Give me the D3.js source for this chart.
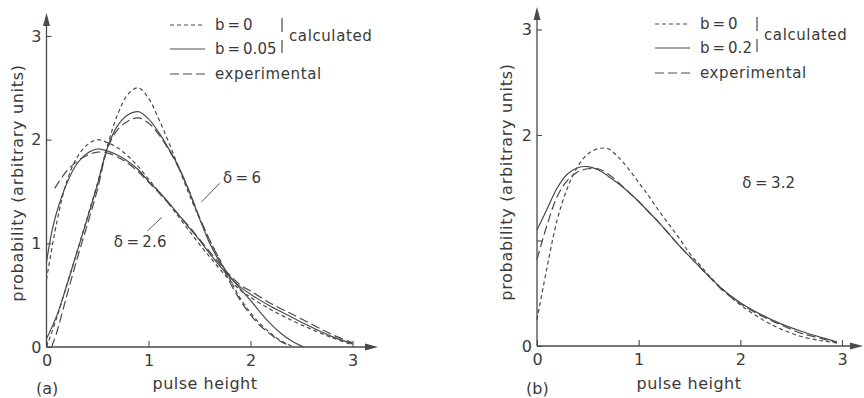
<!DOCTYPE html>
<html>
<head>
<meta charset="utf-8">
<script src="https://cdn.jsdelivr.net/npm/d3@7"></script>
<style>
  html, body { margin: 0; padding: 0; background: #fff; }
  svg { display: block; }
  text { font-family: "DejaVu Sans", sans-serif; fill: #3a3a3a; }
</style>
</head>
<body>
<svg id="chart" width="864" height="398"></svg>
<script>
// ---------- data ----------
const xTicks = [0, 1, 2, 3];
const yTicks = [0, 1, 2, 3];
const yTickLabelsA = ["0", "1", "2", "3"];
const yTickLabelsB = ["0", "", "2", "3"];

// Panel (a): delta = 2.6
const aD26_b0 = [[0,0.65],[0.1,1.2],[0.2,1.6],[0.3,1.83],[0.4,1.95],[0.5,2.0],[0.6,1.97],[0.7,1.92],[0.8,1.84],[0.9,1.74],[1.0,1.62],[1.1,1.5],[1.2,1.38],[1.3,1.25],[1.4,1.12],[1.5,0.99],[1.6,0.87],[1.7,0.75],[1.8,0.64],[1.9,0.55],[2.0,0.48],[2.2,0.36],[2.4,0.26],[2.6,0.17],[2.8,0.09],[3.0,0.02]];
const aD26_b005 = [[0,0.82],[0.05,1.1],[0.1,1.3],[0.2,1.58],[0.3,1.77],[0.4,1.87],[0.5,1.91],[0.6,1.89],[0.7,1.85],[0.8,1.79],[0.9,1.71],[1.0,1.6],[1.1,1.5],[1.2,1.39],[1.3,1.27],[1.4,1.15],[1.5,1.03],[1.6,0.9],[1.7,0.78],[1.8,0.67],[1.9,0.58],[2.0,0.51],[2.2,0.39],[2.4,0.29],[2.6,0.19],[2.8,0.1],[3.0,0.03]];
const aD26_exp = [[0.08,1.53],[0.2,1.7],[0.3,1.79],[0.4,1.85],[0.5,1.88],[0.6,1.87],[0.7,1.83],[0.8,1.77],[0.9,1.69],[1.0,1.59],[1.1,1.49],[1.2,1.38],[1.3,1.27],[1.4,1.16],[1.5,1.04],[1.6,0.92],[1.7,0.8],[1.8,0.69],[1.9,0.6],[2.0,0.54],[2.2,0.42],[2.4,0.32],[2.6,0.22],[2.8,0.12],[3.0,0.04]];
// Panel (a): delta = 6
const aD6_b0 = [[0,0],[0.1,0.28],[0.2,0.6],[0.3,0.92],[0.4,1.25],[0.5,1.58],[0.6,1.95],[0.7,2.25],[0.8,2.44],[0.9,2.5],[1.0,2.4],[1.1,2.2],[1.2,1.97],[1.3,1.72],[1.4,1.47],[1.5,1.24],[1.6,1.03],[1.7,0.84],[1.8,0.65],[1.9,0.47],[2.0,0.33],[2.1,0.22],[2.2,0.13],[2.3,0.06],[2.4,0.01]];
const aD6_b005 = [[0,0.08],[0.1,0.3],[0.2,0.6],[0.3,0.92],[0.4,1.24],[0.5,1.57],[0.6,1.93],[0.7,2.14],[0.8,2.24],[0.9,2.27],[1.0,2.2],[1.1,2.07],[1.2,1.91],[1.3,1.73],[1.4,1.5],[1.5,1.24],[1.6,1.0],[1.7,0.82],[1.8,0.68],[1.9,0.56],[2.0,0.45],[2.1,0.33],[2.2,0.22],[2.3,0.13],[2.4,0.06],[2.52,0]];
const aD6_exp = [[0.05,0],[0.1,0.14],[0.2,0.5],[0.3,0.85],[0.4,1.18],[0.5,1.52],[0.6,1.92],[0.7,2.1],[0.8,2.18],[0.9,2.21],[1.0,2.16],[1.1,2.05],[1.2,1.9],[1.3,1.72],[1.4,1.5],[1.5,1.25],[1.6,1.03],[1.7,0.83],[1.8,0.62],[1.9,0.45],[2.0,0.31],[2.1,0.2],[2.2,0.12],[2.3,0.05],[2.4,0.01]];
// Panel (b): delta = 3.2
const bB0 = [[0,0.25],[0.1,0.75],[0.2,1.2],[0.3,1.5],[0.4,1.7],[0.5,1.82],[0.6,1.87],[0.7,1.87],[0.8,1.79],[0.9,1.68],[1.0,1.55],[1.1,1.42],[1.2,1.28],[1.3,1.15],[1.4,1.02],[1.5,0.88],[1.6,0.77],[1.7,0.66],[1.8,0.56],[1.9,0.47],[2.0,0.39],[2.2,0.26],[2.4,0.16],[2.6,0.09],[2.8,0.05],[2.95,0.03]];
const bB02 = [[0,1.1],[0.1,1.3],[0.2,1.5],[0.3,1.63],[0.4,1.69],[0.5,1.7],[0.6,1.67],[0.7,1.61],[0.8,1.54],[0.9,1.46],[1.0,1.37],[1.1,1.27],[1.2,1.17],[1.3,1.06],[1.4,0.95],[1.5,0.85],[1.6,0.75],[1.7,0.65],[1.8,0.56],[1.9,0.48],[2.0,0.41],[2.2,0.3],[2.4,0.21],[2.6,0.14],[2.8,0.08],[2.95,0.04]];
const bExp = [[0,0.82],[0.1,1.15],[0.2,1.42],[0.3,1.57],[0.4,1.65],[0.5,1.68],[0.6,1.68],[0.7,1.63],[0.8,1.55],[0.9,1.46],[1.0,1.37],[1.1,1.27],[1.2,1.17],[1.3,1.06],[1.4,0.95],[1.5,0.85],[1.6,0.75],[1.7,0.65],[1.8,0.55],[1.9,0.47],[2.0,0.4],[2.2,0.29],[2.4,0.2],[2.6,0.12],[2.8,0.07],[2.95,0.03]];

const legendLabelsA = ["b\u2009=\u20090", "b\u2009=\u20090.05", "experimental"];
const legendLabelsB = ["b\u2009=\u20090", "b\u2009=\u20090.2", "experimental"];
const bracketLabel = "calculated";
const xAxisTitle = "pulse height";
const yAxisTitle = "probability (arbitrary units)";

// ---------- drawing ----------
const ink = "#4a4a4a";
const dashB0 = "4,3";
const dashExp = "9,4";
const svg = d3.select("#chart");

function arrowHead(g, x, y, dir) {
  const p = dir === "up"
    ? [[x, y], [x - 3.5, y + 13], [x + 3.5, y + 13]]
    : [[x, y], [x - 13, y - 3.5], [x - 13, y + 3.5]];
  g.append("path").attr("d", d3.line()(p) + "Z").attr("fill", ink);
}

function panel(opts) {
  const g = svg.append("g");
  const x = d3.scaleLinear().domain([0, 3]).range(opts.xr);
  const y = d3.scaleLinear().domain([0, 3]).range(opts.yr);
  const y0 = y(0), x0 = x(0);

  g.append("line").attr("x1", x0).attr("x2", opts.xEnd - 4).attr("y1", y0).attr("y2", y0)
    .attr("stroke", ink).attr("stroke-width", 1.3);
  arrowHead(g, opts.xEnd, y0, "right");
  g.append("line").attr("x1", x0).attr("x2", x0).attr("y1", y0).attr("y2", opts.yEnd + 4)
    .attr("stroke", ink).attr("stroke-width", 1.3);
  arrowHead(g, x0, opts.yEnd, "up");

  const xAxis = d3.axisBottom(x).tickValues(xTicks).tickSize(-6).tickPadding(8)
    .tickFormat(d3.format("d"));
  const gx = g.append("g").attr("transform", `translate(0,${y0})`).call(xAxis);
  gx.select(".domain").remove();
  gx.selectAll("line").attr("stroke", ink).attr("stroke-width", 1.1);
  gx.selectAll("text").attr("font-size", 16).style("fill", "#3a3a3a");

  const yAxis = d3.axisLeft(y).tickValues(yTicks).tickSize(-5).tickPadding(5)
    .tickFormat((d, i) => opts.yLabels[i]);
  const gy = g.append("g").attr("transform", `translate(${x0},0)`).call(yAxis);
  gy.select(".domain").remove();
  gy.selectAll("line").attr("stroke", ink).attr("stroke-width", 1.1);
  gy.selectAll("text").attr("font-size", 16).style("fill", "#3a3a3a");

  const line = d3.line().x(d => x(d[0])).y(d => y(d[1])).curve(d3.curveCatmullRom.alpha(0.5));
  opts.series.forEach(s => {
    g.append("path").datum(s.data).attr("d", line)
      .attr("fill", "none").attr("stroke", ink).attr("stroke-width", s.w || 1.2)
      .attr("stroke-dasharray", s.dash || null);
  });

  g.append("text").attr("x", opts.xTitleX).attr("y", 389).attr("text-anchor", "middle")
    .attr("font-size", 16).attr("letter-spacing", 0.5).text(xAxisTitle);
  g.append("text").attr("transform", `translate(${opts.yTitleX},${opts.yTitleY}) rotate(-90)`)
    .attr("text-anchor", "middle").attr("font-size", 16).attr("letter-spacing", 0.7).text(yAxisTitle);
  g.append("text").attr("x", opts.tagX).attr("y", 394).attr("font-size", 16).text(opts.tag);

  // legend
  const L = opts.legend;
  const dashes = [dashB0, null, dashExp];
  const ys = [L.y, L.y + 24, L.y + 49];
  ys.forEach((ly, i) => {
    g.append("line").attr("x1", L.x).attr("x2", L.x + 35).attr("y1", ly).attr("y2", ly)
      .attr("stroke", ink).attr("stroke-width", 1.1).attr("stroke-dasharray", dashes[i]);
    g.append("text").attr("x", L.x + 45).attr("y", ly + 5).attr("font-size", 15)
      .attr("letter-spacing", i === 2 ? 0.6 : 0).text(L.labels[i]);
  });
  g.append("line").attr("x1", L.bx).attr("x2", L.bx).attr("y1", L.y - 7).attr("y2", L.y + 7)
    .attr("stroke", ink).attr("stroke-width", 1.2);
  g.append("line").attr("x1", L.bx).attr("x2", L.bx).attr("y1", L.y + 15).attr("y2", L.y + 28)
    .attr("stroke", ink).attr("stroke-width", 1.2);
  g.append("text").attr("x", L.bx + 7).attr("y", L.y + 16).attr("font-size", 15)
    .attr("letter-spacing", 0.6).text(bracketLabel);

  return { g, x, y };
}

const A = panel({
  xr: [46.5, 352.5], yr: [347, 36], xEnd: 378, yEnd: 13,
  yLabels: yTickLabelsA,
  series: [
    { data: aD26_b0, dash: dashB0 },
    { data: aD26_b005 },
    { data: aD26_exp, dash: dashExp },
    { data: aD6_b0, dash: dashB0 },
    { data: aD6_b005 },
    { data: aD6_exp, dash: dashExp }
  ],
  xTitleX: 205, yTitleX: 23, yTitleY: 183, tag: "(a)", tagX: 36,
  legend: { x: 170, y: 25, bx: 282, labels: legendLabelsA }
});

const B = panel({
  xr: [537, 842], yr: [346, 29.5], xEnd: 863, yEnd: 7,
  yLabels: yTickLabelsB,
  series: [
    { data: bB0, dash: dashB0 },
    { data: bB02 },
    { data: bExp, dash: dashExp }
  ],
  xTitleX: 689, yTitleX: 512, yTitleY: 182, tag: "(b)", tagX: 526,
  legend: { x: 655, y: 24, bx: 757, labels: legendLabelsB }
});

function annot(P, text, tx, ty, lx1, ly1, lx2, ly2) {
  P.g.append("text").attr("x", P.x(tx)).attr("y", P.y(ty)).attr("font-size", 15)
    .attr("letter-spacing", 0.2).text(text);
  if (lx1 !== undefined) {
    P.g.append("line").attr("x1", P.x(lx1)).attr("y1", P.y(ly1)).attr("x2", P.x(lx2)).attr("y2", P.y(ly2))
      .attr("stroke", ink).attr("stroke-width", 0.9);
  }
}
annot(A, "δ\u2009=\u20096", 1.73, 1.58, 1.52, 1.4, 1.70, 1.58);
annot(A, "δ\u2009=\u20092.6", 0.66, 0.96, 0.99, 1.12, 1.13, 1.25);
annot(B, "δ\u2009=\u20093.2", 2.02, 1.5);
</script>
</body>
</html>
